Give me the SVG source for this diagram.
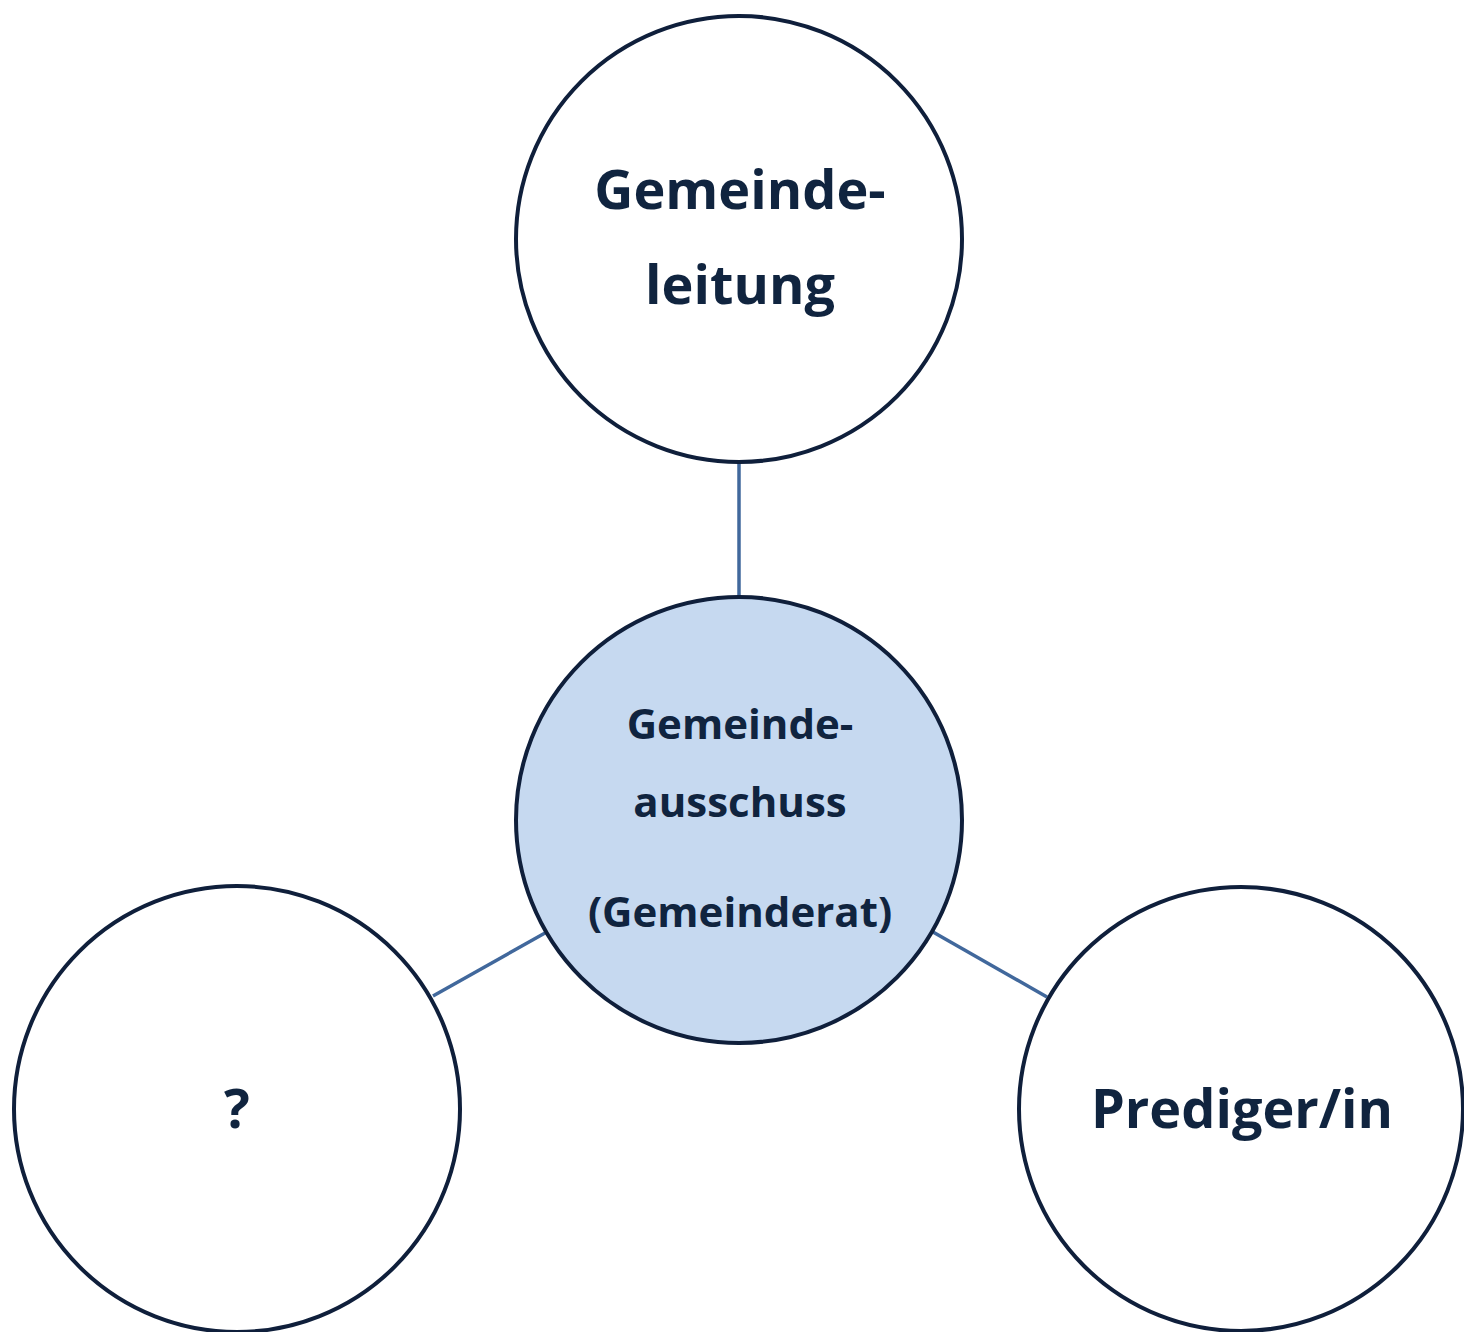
<svg xmlns="http://www.w3.org/2000/svg" width="1464" height="1332" viewBox="0 0 1464 1332">
<style>
.node{fill:#ffffff;stroke:#0f1f3b;stroke-width:4}
.hub{fill:#c6d9f0;stroke:#0f1f3b;stroke-width:4}
.conn{stroke:#41689c;stroke-width:3.5;fill:none}
text{font-family:"Open Sans","Noto Sans",sans-serif;font-weight:bold;fill:#10243f;text-anchor:middle}
.big{font-size:54px}
.mid{font-size:42px}
</style>
<rect width="1464" height="1332" fill="#ffffff"/>
<g id="connectors">
<line class="conn" x1="739" y1="462" x2="739" y2="597"/>
<line class="conn" x1="433" y1="996" x2="545" y2="933"/>
<line class="conn" x1="933" y1="932" x2="1047" y2="997"/>
</g>
<g id="node-gemeindeleitung">
<circle class="node" cx="739" cy="239" r="223"/>
<text class="big" x="740" y="209">Gemeinde-</text>
<text class="big" x="740" y="304">leitung</text>
</g>
<g id="node-gemeindeausschuss">
<circle class="hub" cx="739" cy="820" r="223"/>
<text class="mid" x="740" y="739">Gemeinde-</text>
<text class="mid" x="740" y="817">ausschuss</text>
<text class="mid" x="740" y="927">(Gemeinderat)</text>
</g>
<g id="node-unknown">
<circle class="node" cx="237" cy="1109" r="223"/>
<text class="big" x="237" y="1128">?</text>
</g>
<g id="node-prediger">
<circle class="node" cx="1241" cy="1109" r="222"/>
<text class="big" x="1242" y="1128">Prediger/in</text>
</g>
</svg>
